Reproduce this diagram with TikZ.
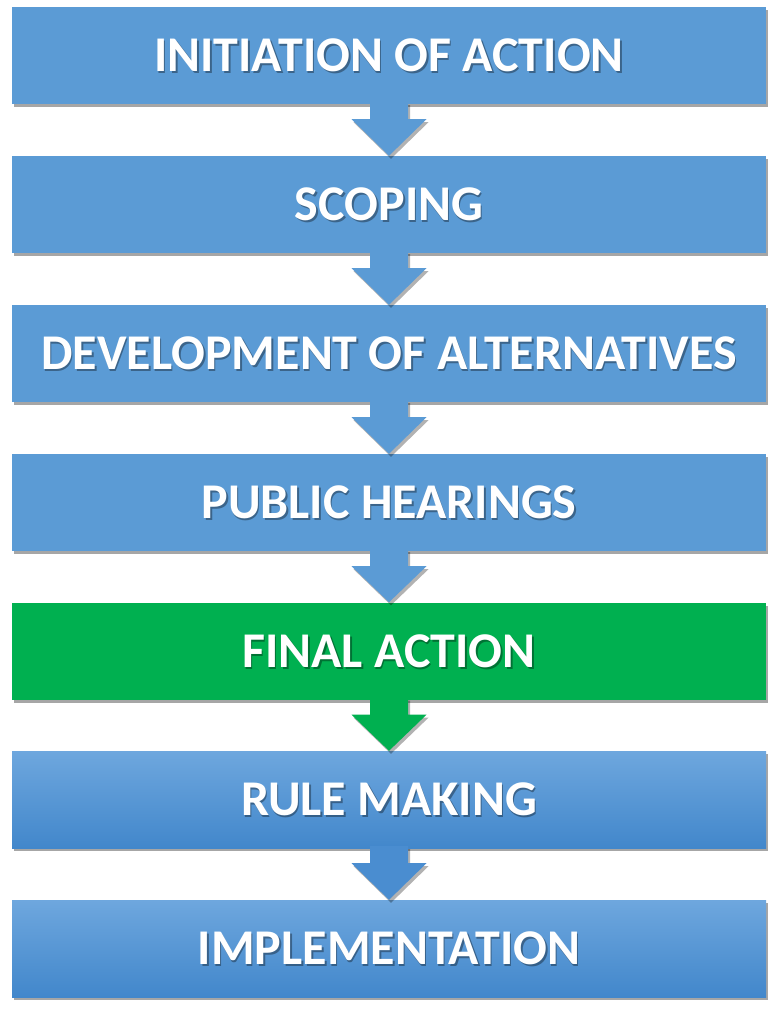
\documentclass[tikz,border=0pt]{standalone}
\usepackage{fontspec}
\setmainfont{Carlito}
\usetikzlibrary{calc,shadows}
\definecolor{stepblue}{HTML}{5B9BD5}
\definecolor{stepgreen}{HTML}{00B050}
\definecolor{gradtop}{HTML}{6EA7DE}
\definecolor{gradbot}{HTML}{4287CB}
\definecolor{darkarrow}{HTML}{4A8DD0}
\tikzset{
  box/.style={rectangle, minimum width=754pt, minimum height=97pt, inner sep=0pt,
    fill=stepblue, drop shadow={shadow xshift=2pt, shadow yshift=-3pt, opacity=0.35, fill=black}},
  greenbox/.style={box, fill=stepgreen},
  gradbox/.style={box, top color=gradtop, bottom color=gradbot},
  lbl/.style={font=\bfseries\fontsize{50}{54}\selectfont, text=white, inner sep=0pt},
  lblshadow/.style={lbl, text=black, text opacity=0.35},
  arr/.style={fill=stepblue, drop shadow={shadow xshift=2pt, shadow yshift=-3pt, opacity=0.3, fill=black}},
  garr/.style={arr, fill=stepgreen},
  darr/.style={arr, fill=darkarrow}
}
\newcommand{\steparrow}[3]{%
  \path[#3] ($(#1.south)+(-19pt,2pt)$) -- ($(#1.south)+(-19pt,-15pt)$) -- ($(#1.south)+(-37.5pt,-15pt)$)
    -- (#2.north) -- ($(#1.south)+(37.5pt,-15pt)$) -- ($(#1.south)+(19pt,-15pt)$) -- ($(#1.south)+(19pt,2pt)$) -- cycle;}
\newcommand{\steplabel}[2]{%
  \node[lblshadow] at ($(#1.center)+(1.6pt,-1.8pt)$) {#2};
  \node[lbl] at (#1.center) {#2};}
\begin{document}
\begin{tikzpicture}[x=1pt,y=-1pt]
\useasboundingbox[fill=white] (0,0) rectangle (782,1025);
\node[box] (b1) at (389,55.5) {};
\node[box] (b2) at (389,204.5) {};
\node[box] (b3) at (389,353.5) {};
\node[box] (b4) at (389,502.5) {};
\node[greenbox] (b5) at (389,651) {};
\node[gradbox] (b6) at (389,799.5) {};
\node[gradbox] (b7) at (389,948.5) {};
\steparrow{b1}{b2}{arr}
\steparrow{b2}{b3}{arr}
\steparrow{b3}{b4}{arr}
\steparrow{b4}{b5}{arr}
\steparrow{b5}{b6}{garr}
\steparrow{b6}{b7}{darr}
\steplabel{b1}{INITIATION OF ACTION}
\steplabel{b2}{SCOPING}
\steplabel{b3}{DEVELOPMENT OF ALTERNATIVES}
\steplabel{b4}{PUBLIC HEARINGS}
\steplabel{b5}{FINAL ACTION}
\steplabel{b6}{RULE MAKING}
\steplabel{b7}{IMPLEMENTATION}
\end{tikzpicture}
\end{document}
